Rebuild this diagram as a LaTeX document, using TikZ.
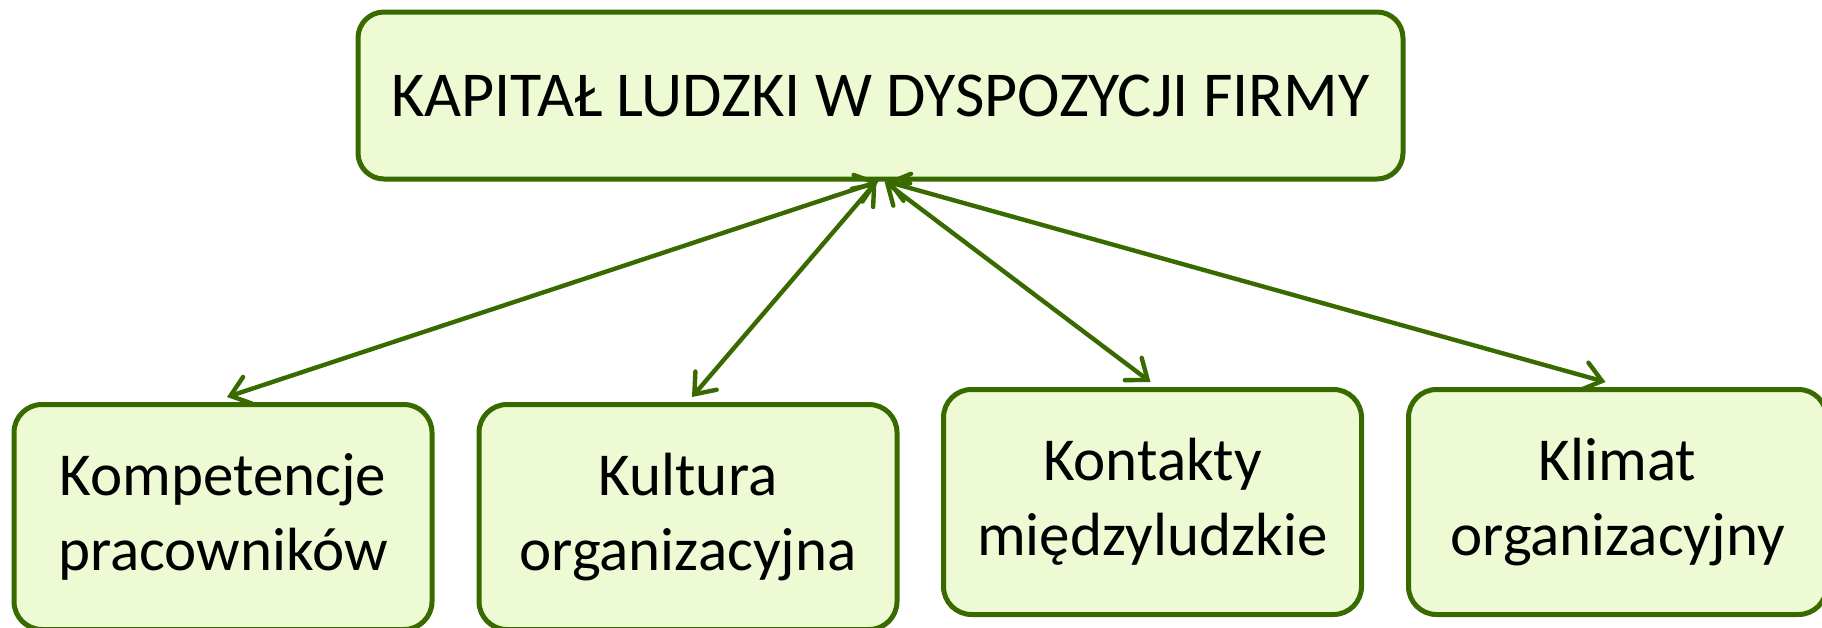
\documentclass[tikz,border=0pt]{standalone}
\usepackage{fontspec}
\setmainfont{Carlito}
\usepackage{xcolor}
\usepackage{tikz}
\usetikzlibrary{arrows.meta,positioning}

\begin{document}
\begin{tikzpicture}[x=0.5pt,y=-0.5pt]
\definecolor{boxfill}{HTML}{EEFAD3}
\definecolor{boxline}{HTML}{386A00}
\tikzset{
  card/.style={draw=boxline,fill=boxfill,line width=2.5pt,rounded corners=14pt,
    align=center,inner sep=0pt,minimum width=209pt,minimum height=112.5pt,
    font=\fontsize{30.5}{37.5}\selectfont},
  link/.style={draw=boxline,line width=2.2pt,line cap=round,
    {Straight Barb[length=9pt,width=14pt,line cap=round]}-{Straight Barb[length=9pt,width=14pt,line cap=round]}}
}
\useasboundingbox (0,0) rectangle (1822,627);

% Top box
\node[card,minimum width=522.5pt,minimum height=83.5pt,rounded corners=13pt,
  font=\fontsize{32}{36}\selectfont] (top) at (880.5,95.5) {KAPITAŁ LUDZKI W DYSPOZYCJI FIRMY};

% Components of human capital
\node[card] (komp) at (223,517) {Kompetencje\\pracowników};
\node[card] (kult) at (688,517) {Kultura\\organizacyjna};
\node[card] (kont) at (1152.5,502) {Kontakty\\międzyludzkie};
\node[card] (klim) at (1617.5,502) {Klimat\\organizacyjny};

% Two-way links
\draw[link] ([xshift=-1pt]top.south) -- ([xshift=2pt,yshift=2.5pt]komp.north);
\draw[link] ([xshift=-2pt]top.south) -- ([xshift=2pt,yshift=2.5pt]kult.north);
\draw[link] ([xshift=2pt]top.south) -- ([xshift=-1pt,yshift=2.5pt]kont.north);
\draw[link] ([xshift=3pt]top.south) -- ([xshift=-6pt,yshift=2.5pt]klim.north);
\end{tikzpicture}
\end{document}
